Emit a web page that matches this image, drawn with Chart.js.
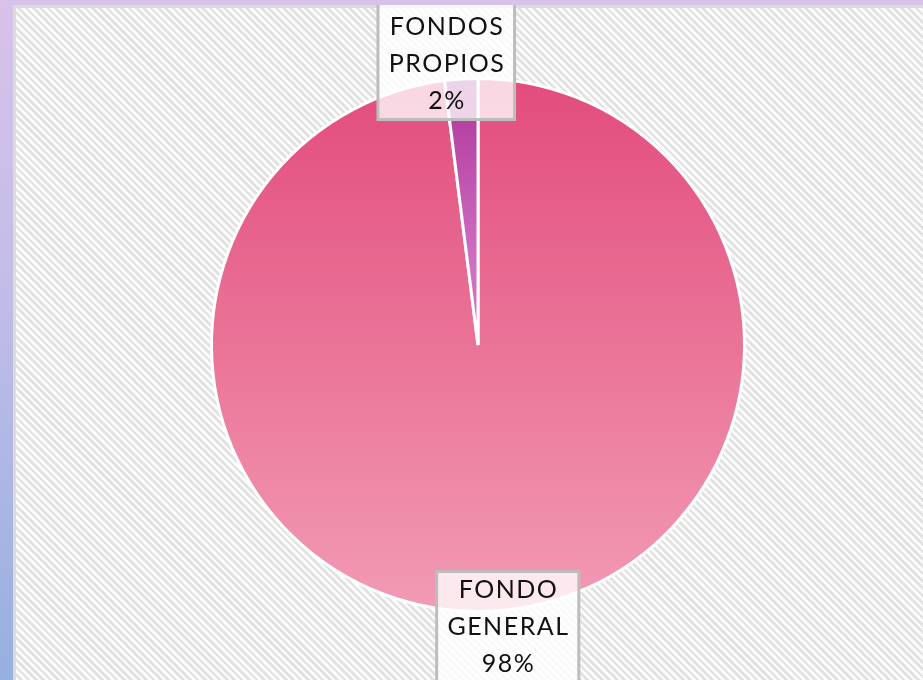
<!DOCTYPE html>
<html><head><meta charset="utf-8">
<script src="https://cdn.jsdelivr.net/npm/chart.js@4/dist/chart.umd.min.js"></script>
<style>
html,body{margin:0;padding:0;width:923px;height:680px;overflow:hidden;}
body{position:relative;background:#d8c2ea;}
#leftband{position:absolute;left:0;top:0;width:13px;height:680px;background:linear-gradient(to bottom,#d8c2ea,#c4bde8 40%,#96b0e0);}
#frame{position:absolute;left:13px;top:5px;width:910px;height:675px;background:#dcdcdc;}
#bg{position:absolute;left:16px;top:8px;width:907px;height:672px;
background:repeating-linear-gradient(45deg,#fbfbfb 0px,#fbfbfb 2.6px,#e2e2e2 2.6px,#e2e2e2 5.2px);}
#wrap{position:absolute;left:16px;top:5px;width:907px;height:675px;}
</style></head>
<body>
<div id="leftband"></div><div id="frame"></div><div id="bg"></div>
<div id="wrap"><canvas id="c"></canvas></div>
<script>
const categories = ["FONDO GENERAL", "FONDOS PROPIOS"];
const labelLines = [["FONDO", "GENERAL"], ["FONDOS", "PROPIOS"]];
const shares = [98, 2];

const gradStops = [["#e24c7c", "#f29bb4"], ["#ad3498", "#d070c2"]];
const labelOffsets = [[13, 16], [-15, -15]];

function sliceFill(ctx) {
  const chart = ctx.chart;
  const area = chart.chartArea;
  const s = gradStops[ctx.dataIndex];
  if (!area || !isFinite(area.top) || !isFinite(area.bottom)) return s[0];
  const cy = (area.top + area.bottom) / 2;
  const r = Math.min(area.right - area.left, area.bottom - area.top) / 2;
  if (!isFinite(cy) || !isFinite(r) || r <= 0) return s[0];
  const g = chart.ctx.createLinearGradient(0, cy - r, 0, cy + r);
  if (ctx.dataIndex === 1) {
    g.addColorStop(0, s[0]);
    g.addColorStop(0.35, s[1]);
    g.addColorStop(1, s[1]);
  } else {
    g.addColorStop(0, s[0]);
    g.addColorStop(1, s[1]);
  }
  return g;
}

const labelPlugin = {
  id: 'boxLabels',
  afterDraw(chart) {
    const ctx = chart.ctx;
    const meta = chart.getDatasetMeta(0);
    const total = shares.reduce((a, b) => a + b, 0);
    ctx.save();
    ctx.font = '25px Lato';
    ctx.letterSpacing = '1.5px';
    ctx.textAlign = 'center';
    ctx.textBaseline = 'middle';
    const lh = 37;
    meta.data.forEach((arc, i) => {
      const mid = (arc.startAngle + arc.endAngle) / 2;
      const ax = arc.x + Math.cos(mid) * arc.outerRadius + labelOffsets[i][0];
      const ay = arc.y + Math.sin(mid) * arc.outerRadius + labelOffsets[i][1];
      const lines = labelLines[i].concat([Math.round(shares[i] / total * 100) + '%']);
      let w = 0;
      lines.forEach(l => { w = Math.max(w, ctx.measureText(l).width); });
      const bw = w + 20, half = lines.length * lh / 2;
      const outward = 12;
      const up = ay < arc.y;
      const top = ay - half - (up ? outward : 0);
      const bottom = ay + half + (up ? 0 : outward);
      const bx = ax - bw / 2;
      ctx.fillStyle = 'rgba(255,255,255,0.78)';
      ctx.fillRect(bx, top, bw, bottom - top);
      ctx.strokeStyle = '#bdbdbd';
      ctx.lineWidth = 3;
      ctx.strokeRect(bx, top, bw, bottom - top);
      ctx.fillStyle = '#111';
      lines.forEach((l, k) => {
        ctx.fillText(l, ax + 0.75, ay + (k - (lines.length - 1) / 2) * lh);
      });
    });
    ctx.restore();
  }
};

new Chart(document.getElementById('c'), {
  type: 'pie',
  data: {
    labels: categories,
    datasets: [{
      data: shares,
      backgroundColor: sliceFill,
      borderColor: '#ffffff',
      borderWidth: 3,
      hoverOffset: 0
    }]
  },
  options: {
    responsive: true,
    maintainAspectRatio: false,
    animation: false,
    layout: { padding: { left: 17, right: 0, top: 72, bottom: 67 } },
    plugins: { legend: { display: false }, tooltip: { enabled: false } }
  },
  plugins: [labelPlugin]
});
</script>
</body></html>
